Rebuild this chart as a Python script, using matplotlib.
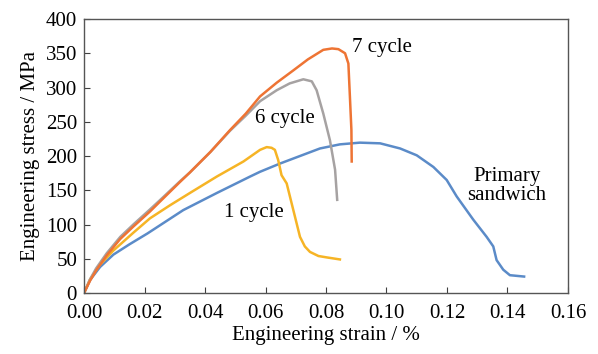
import numpy as np
import matplotlib
matplotlib.use('Agg')
import matplotlib.pyplot as plt

primary_strain = [0, 0.002, 0.0053, 0.0097, 0.015, 0.021, 0.0328, 0.0439, 0.0549, 0.0582, 0.0648,
                  0.0714, 0.078, 0.0846, 0.0912, 0.0979, 0.1045, 0.11, 0.1155, 0.1199, 0.1232,
                  0.1287, 0.1331, 0.1353, 0.1364, 0.1386, 0.1408, 0.1455]
primary_stress = [0, 19, 38, 56, 71, 87, 121, 146, 170, 177, 189,
                  200, 211, 217, 219.5, 218.5, 211, 201, 184, 165, 141,
                  107, 82, 68, 48, 34, 26, 24]

c1_strain = [0, 0.002, 0.005, 0.0097, 0.0163, 0.0218, 0.0284, 0.035, 0.0439, 0.0527, 0.0582,
             0.0604, 0.062, 0.0631, 0.0642, 0.0653, 0.067, 0.0692, 0.0714, 0.073, 0.0747,
             0.0775, 0.0802, 0.0846]
c1_stress = [0, 20, 40, 62, 88, 109, 128, 146, 170, 192, 209,
             213, 212, 209, 194, 172, 160, 121, 82, 68, 60,
             54, 52, 49]

c6_strain = [0, 0.002, 0.004, 0.0075, 0.012, 0.0163, 0.0218, 0.0257, 0.0317, 0.035, 0.0418,
             0.0483, 0.0535, 0.0582, 0.0637, 0.068, 0.0725, 0.0753, 0.0769, 0.0791, 0.0813,
             0.083, 0.0837]
c6_stress = [0, 20, 36, 58, 82, 100, 122, 138, 163, 176, 206,
             237, 259, 280, 296, 306, 312, 309, 296, 262, 223,
             180, 136]

c7_strain = [0, 0.002, 0.004, 0.0075, 0.012, 0.0163, 0.0218, 0.0257, 0.0317, 0.035, 0.0418,
             0.0483, 0.0535, 0.0582, 0.0637, 0.0692, 0.074, 0.0791, 0.082, 0.0841, 0.0863,
             0.0874, 0.0879, 0.0884, 0.0885]
c7_stress = [0, 18, 33, 55, 79, 97, 119, 136, 162, 176, 206,
             238, 262, 287, 307, 325, 341, 355, 357, 356, 350,
             335, 287, 238, 192]

x_ticks = [0.00, 0.02, 0.04, 0.06, 0.08, 0.10, 0.12, 0.14, 0.16]
y_ticks = [0, 50, 100, 150, 200, 250, 300, 350, 400]

plt.rcParams['font.family'] = ['Liberation Serif', 'DejaVu Serif']
plt.rcParams['font.size'] = 15

fig = plt.figure(figsize=(5.98, 3.54), dpi=100)
ax = fig.add_axes([0.1405, 0.1723, 0.8093, 0.774])

lw = 1.8
ax.plot(primary_strain, primary_stress, color='#5b8bc8', lw=lw)
ax.plot(c1_strain, c1_stress, color='#f6b425', lw=lw)
ax.plot(c6_strain, c6_stress, color='#a6a2a2', lw=lw)
ax.plot(c7_strain, c7_stress, color='#ee7434', lw=lw)

ax.text(0.0885, 358, '7 cycle', ha='left', va='center', fontsize=15)
ax.text(0.0665, 255, '6 cycle', ha='center', va='center', fontsize=15)
ax.text(0.0560, 117, '1 cycle', ha='center', va='center', fontsize=15)
ax.text(0.1398, 156, 'Primary\nsandwich', ha='center', va='center', fontsize=15, linespacing=1.0)

ax.set_xlim(0, 0.16)
ax.set_ylim(0, 400)
ax.set_xticks(x_ticks)
ax.set_xticklabels([f'{t:.2f}' for t in x_ticks])
ax.set_yticks(y_ticks)
ax.tick_params(direction='in', length=4, width=0.8, colors='#404040', labelcolor='black', pad=5)
ax.tick_params(axis='x', pad=8)
for s in ax.spines.values():
    s.set_color('#555555')
    s.set_linewidth(1.0)

ax.set_xlabel('Engineering strain / %', labelpad=2)
ax.set_ylabel('Engineering stress / MPa', labelpad=4)

fig.savefig('out.png', dpi=100)
